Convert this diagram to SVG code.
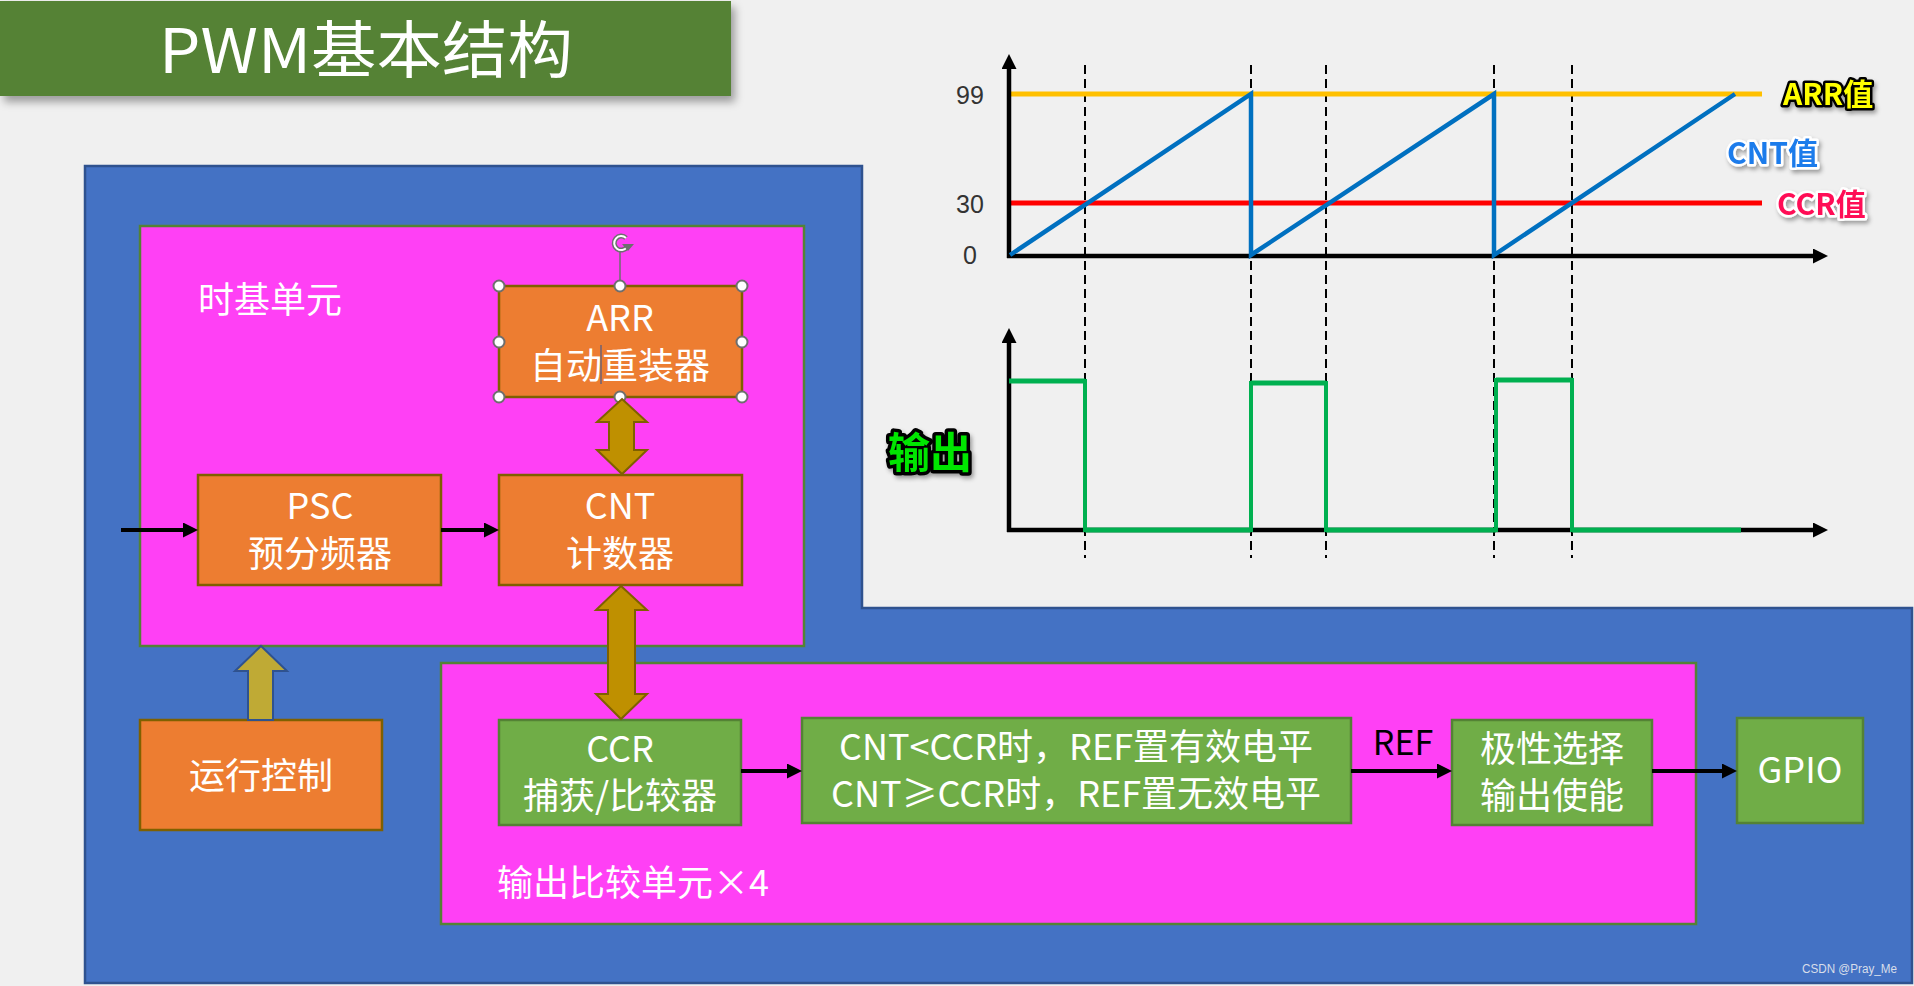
<svg xmlns="http://www.w3.org/2000/svg" width="1914" height="986" viewBox="0 0 1914 986">
<defs>
<style>
.t{font-family:"Noto Sans CJK SC","Noto Sans",sans-serif;fill:#fff;font-size:36px;text-anchor:middle}
.orange{fill:#ED7D31;stroke:#7F6000;stroke-width:2.5}
.green{fill:#70AD47;stroke:#548235;stroke-width:2.5}
.mag{fill:#FF40F5;stroke:#548235;stroke-width:2.5}
.conn{stroke:#000;stroke-width:4;fill:none}
.axis{stroke:#000;stroke-width:4.5;fill:none}
.dash{stroke:#000;stroke-width:2;stroke-dasharray:9,5;fill:none}
.gold{fill:#BF9000;stroke:#7F6000;stroke-width:2}
.handle{fill:#fff;stroke:#6E6E6E;stroke-width:2}
.num{font-family:"Liberation Sans Narrow","Liberation Sans",sans-serif;font-size:25px;fill:#333;text-anchor:middle}
.lab{font-family:"Noto Sans CJK SC","Noto Sans",sans-serif;font-weight:bold;paint-order:stroke;stroke-linejoin:round}
</style>
<marker id="arr" markerUnits="userSpaceOnUse" markerWidth="15" markerHeight="15" refX="9" refY="7.5" orient="auto">
<path d="M0,0 L15,7.5 L0,15 z" fill="#000"/>
</marker>
<filter id="shadow" x="-10%" y="-20%" width="120%" height="150%">
<feDropShadow dx="4" dy="6" stdDeviation="4" flood-color="#000" flood-opacity="0.35"/>
</filter>
<filter id="tshadow" x="-20%" y="-30%" width="140%" height="160%">
<feDropShadow dx="2" dy="3" stdDeviation="2" flood-color="#000" flood-opacity="0.35"/>
</filter>
</defs>
<rect width="1914" height="986" fill="#F0F0F0"/>

<g id="title">
<rect x="0" y="1" width="731" height="95" fill="#548235" filter="url(#shadow)"/>
<text x="366" y="73" font-family="'Noto Sans CJK SC','Noto Sans',sans-serif" font-size="62" fill="#fff" text-anchor="middle" textLength="414" lengthAdjust="spacingAndGlyphs">PWM基本结构</text>
</g>

<g id="outer">
<path d="M85,166 H862 V608 H1912 V983 H85 Z" fill="#4472C4" stroke="#2F528F" stroke-width="2.5"/>
</g>

<g id="timebase">
<rect class="mag" x="140" y="226" width="664" height="420"/>
<text class="t" x="198" y="313" style="text-anchor:start">时基单元</text>
</g>

<g id="outcompare">
<rect class="mag" x="441" y="663" width="1255" height="261"/>
<text class="t" x="497" y="896" style="text-anchor:start">输出比较单元×4</text>
</g>

<g id="arr-box">
<rect class="orange" x="499" y="286" width="243" height="111"/>
<text class="t"><tspan x="620" y="331">ARR</tspan><tspan x="620" y="379">自动重装器</tspan></text>
<line x1="601" y1="345" x2="601" y2="384" stroke="#2F5597" stroke-width="1"/>
</g>

<g id="psc">
<rect class="orange" x="198" y="475" width="243" height="110"/>
<text class="t"><tspan x="320" y="519">PSC</tspan><tspan x="320" y="567">预分频器</tspan></text>
</g>

<g id="cnt">
<rect class="orange" x="499" y="475" width="243" height="110"/>
<text class="t"><tspan x="620" y="519">CNT</tspan><tspan x="620" y="567">计数器</tspan></text>
</g>

<g id="run">
<rect class="orange" x="140" y="720" width="242" height="110"/>
<text class="t" x="261" y="789">运行控制</text>
</g>

<g id="ccr">
<rect class="green" x="499" y="720" width="242" height="105"/>
<text class="t"><tspan x="620" y="762">CCR</tspan><tspan x="620" y="809">捕获/比较器</tspan></text>
</g>

<g id="compare">
<rect class="green" x="802" y="718" width="549" height="105"/>
<text class="t"><tspan x="1076" y="760">CNT&lt;CCR时，REF置有效电平</tspan><tspan x="1076" y="807">CNT≥CCR时，REF置无效电平</tspan></text>
</g>

<g id="polarity">
<rect class="green" x="1452" y="720" width="200" height="105"/>
<text class="t"><tspan x="1552" y="762">极性选择</tspan><tspan x="1552" y="809">输出使能</tspan></text>
</g>

<g id="gpio">
<rect class="green" x="1737" y="718" width="126" height="105"/>
<text class="t" x="1800" y="783">GPIO</text>
</g>

<g id="selection">
<line x1="620" y1="252" x2="620" y2="286" stroke="#6E6E6E" stroke-width="1.5"/>
<path d="M626,238 A7,7 0 1 0 627,247" fill="none" stroke="#6E6E6E" stroke-width="5"/>
<path d="M626,238 A7,7 0 1 0 627,247" fill="none" stroke="#fff" stroke-width="2"/>
<path d="M622,244 L634,244 L628,251 z" fill="#6E6E6E"/>
<circle class="handle" cx="499" cy="286" r="5.5"/>
<circle class="handle" cx="620" cy="286" r="5.5"/>
<circle class="handle" cx="742" cy="286" r="5.5"/>
<circle class="handle" cx="499" cy="342" r="5.5"/>
<circle class="handle" cx="742" cy="342" r="5.5"/>
<circle class="handle" cx="499" cy="397" r="5.5"/>
<circle class="handle" cx="620" cy="397" r="5.5"/>
<circle class="handle" cx="742" cy="397" r="5.5"/>
</g>

<g id="connectors">
<line class="conn" x1="121" y1="530" x2="192" y2="530" marker-end="url(#arr)"/>
<line class="conn" x1="441" y1="530" x2="493" y2="530" marker-end="url(#arr)"/>
<line class="conn" x1="741" y1="771" x2="796" y2="771" marker-end="url(#arr)"/>
<line class="conn" x1="1351" y1="771" x2="1446" y2="771" marker-end="url(#arr)"/>
<line class="conn" x1="1652" y1="771" x2="1731" y2="771" marker-end="url(#arr)"/>
<text x="1403" y="755" font-family="'Noto Sans CJK SC','Noto Sans',sans-serif" font-size="34" fill="#000" text-anchor="middle">REF</text>
<path class="gold" d="M622,399 L647,422 L634,422 L634,450 L647,450 L622,474 L597,450 L609,450 L609,422 L597,422 Z"/>
<path class="gold" d="M621,586 L647,610 L635,610 L635,694 L647,694 L621,719 L596,694 L608,694 L608,610 L596,610 Z"/>
<path d="M261,646 L287,671 L273,671 L273,720 L248,720 L248,671 L235,671 Z" fill="#BFAA35" stroke="#2F528F" stroke-width="2"/>
</g>

<g id="chart">
<line class="dash" x1="1085" y1="65" x2="1085" y2="558"/>
<line class="dash" x1="1251" y1="65" x2="1251" y2="558"/>
<line class="dash" x1="1326" y1="65" x2="1326" y2="558"/>
<line class="dash" x1="1494" y1="65" x2="1494" y2="558"/>
<line class="dash" x1="1572" y1="65" x2="1572" y2="558"/>
<line x1="1009" y1="94" x2="1762" y2="94" stroke="#FFC000" stroke-width="5"/>
<line x1="1009" y1="203" x2="1762" y2="203" stroke="#FF0000" stroke-width="5"/>
<line class="axis" x1="1009" y1="258" x2="1009" y2="60" marker-end="url(#arr)"/>
<line class="axis" x1="1007" y1="256" x2="1822" y2="256" marker-end="url(#arr)"/>
<path d="M1010,255 L1251,94 L1251,255 L1494,94 L1494,255 L1735,94" fill="none" stroke="#0070C0" stroke-width="4.5"/>
<text class="num" x="970" y="104">99</text>
<text class="num" x="970" y="213">30</text>
<text class="num" x="970" y="264">0</text>
<text class="lab" x="1783" y="105" font-size="30" fill="#FFFF00" stroke="#000" stroke-width="5" filter="url(#tshadow)">ARR值</text>
<text class="lab" x="1727" y="164" font-size="30" fill="#1E7BEB" stroke="#fff" stroke-width="5" filter="url(#tshadow)">CNT值</text>
<text class="lab" x="1777" y="215" font-size="30" fill="#FF1056" stroke="#fff" stroke-width="5" filter="url(#tshadow)">CCR值</text>

<line class="axis" x1="1009" y1="532" x2="1009" y2="334" marker-end="url(#arr)"/>
<line class="axis" x1="1007" y1="530" x2="1822" y2="530" marker-end="url(#arr)"/>
<path d="M1009,381 L1085,381 M1251,383 L1326,383 M1496,380 L1572,380" stroke="#00B050" stroke-width="5" fill="none"/>
<path d="M1085,379 L1085,530 L1251,530 L1251,381 M1326,381 L1326,530 L1496,530 L1496,378 M1572,378 L1572,530 L1741,530" stroke="#00B050" stroke-width="4" fill="none"/>
<path d="M1085,530 L1251,530 M1326,530 L1496,530 M1572,530 L1741,530" stroke="#00B050" stroke-width="5" fill="none"/>
<text class="lab" x="888" y="468" font-size="42" fill="#00E600" stroke="#000" stroke-width="7" filter="url(#tshadow)">输出</text>
</g>

<text x="1802" y="973" font-family="'Liberation Sans',sans-serif" font-size="12" fill="#D8DEEA" textLength="95" lengthAdjust="spacingAndGlyphs">CSDN @Pray_Me</text>
</svg>
